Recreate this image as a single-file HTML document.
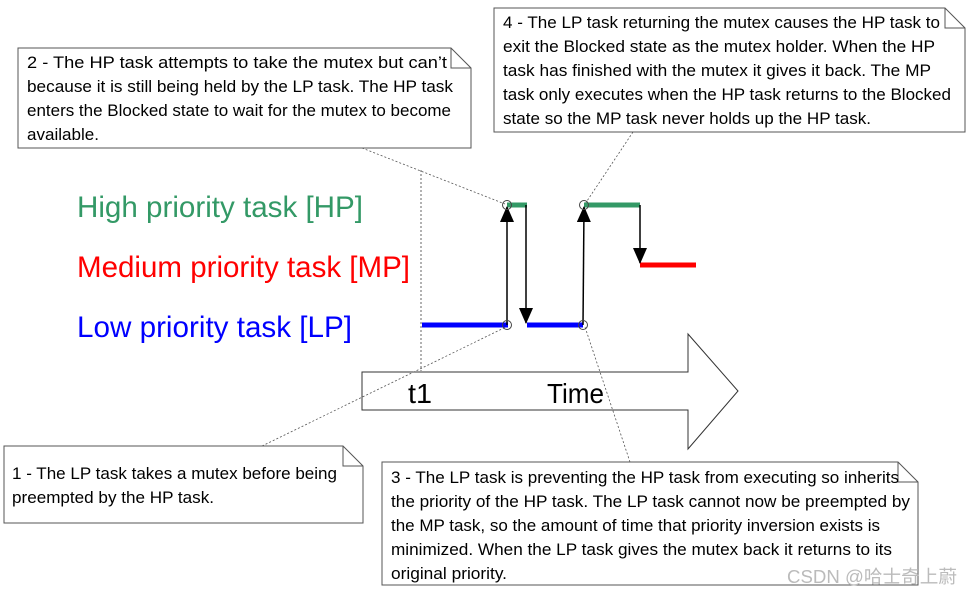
<!DOCTYPE html>
<html><head><meta charset="utf-8"><style>
html,body{margin:0;padding:0;background:#fff;width:973px;height:595px;overflow:hidden}
text{font-family:"Liberation Sans Narrow","Liberation Sans",sans-serif}
</style></head><body>
<svg width="973" height="595" viewBox="0 0 973 595" xmlns="http://www.w3.org/2000/svg">
<defs><marker id="ah" markerWidth="16" markerHeight="14" refX="15" refY="7" orient="auto" markerUnits="userSpaceOnUse"><path d="M0,0 L16,7 L0,14 z" fill="#000"/></marker></defs>
<!-- Time arrow -->
<path d="M362,372 H688 V334 L738,391 L688,449 V410 H362 Z" fill="#fff" stroke="#333" stroke-width="1"/>
<text x="408" y="403" font-size="28" fill="#000" textLength="24" lengthAdjust="spacingAndGlyphs">t1</text>
<text x="547" y="403" font-size="28" fill="#000" textLength="57" lengthAdjust="spacingAndGlyphs">Time</text>
<!-- dashed vertical -->
<line x1="421" y1="170" x2="421" y2="372" stroke="#999" stroke-width="1.5" stroke-dasharray="2,2"/>
<!-- leader lines -->
<g stroke="#555" stroke-width="0.8" stroke-dasharray="2,2" fill="none">
<line x1="362" y1="148" x2="505" y2="204"/>
<line x1="633" y1="132" x2="585" y2="204"/>
<line x1="262" y1="446" x2="506" y2="327"/>
<line x1="630" y1="462" x2="585" y2="327"/>
</g>
<!-- labels -->
<text x="77" y="217" font-size="30" fill="#339966" textLength="286" lengthAdjust="spacingAndGlyphs">High priority task [HP]</text>
<text x="77" y="277" font-size="30" fill="#ff0000" textLength="333" lengthAdjust="spacingAndGlyphs">Medium priority task [MP]</text>
<text x="77" y="337" font-size="30" fill="#0000ff" textLength="275" lengthAdjust="spacingAndGlyphs">Low priority task [LP]</text>
<!-- bars -->
<line x1="422" y1="325" x2="508" y2="325" stroke="#0000ff" stroke-width="5"/>
<line x1="507" y1="205" x2="527" y2="205" stroke="#339966" stroke-width="5"/>
<line x1="527" y1="325" x2="583" y2="325" stroke="#0000ff" stroke-width="5"/>
<line x1="584" y1="205" x2="640" y2="205" stroke="#339966" stroke-width="5"/>
<line x1="640" y1="265" x2="696" y2="265" stroke="#ff0000" stroke-width="5"/>
<!-- arrows -->
<g stroke="#000" stroke-width="1.5">
<line x1="507" y1="325" x2="507" y2="207" marker-end="url(#ah)"/>
<line x1="526" y1="205" x2="526" y2="323" marker-end="url(#ah)"/>
<line x1="583" y1="325" x2="584" y2="207" marker-end="url(#ah)"/>
<line x1="640" y1="205" x2="640" y2="263" marker-end="url(#ah)"/>
</g>
<g fill="none" stroke="#444" stroke-width="1">
<circle cx="507" cy="205" r="4.5"/><circle cx="584" cy="205" r="4.5"/>
<circle cx="507" cy="325" r="4.5"/><circle cx="583" cy="325" r="4.5"/>
</g>
<!-- boxes -->
<g fill="#fff" stroke="#555" stroke-width="1">
<path d="M18,48 H451 L471,68 V148 H18 Z"/><path d="M451,48 V68 H471" fill="none"/>
<path d="M494,8 H945 L965,28 V132 H494 Z"/><path d="M945,8 V28 H965" fill="none"/>
<path d="M4,446 H343 L363,466 V523 H4 Z"/><path d="M343,446 V466 H363" fill="none"/>
<path d="M382,462 H898 L918,482 V585 H382 Z"/><path d="M898,462 V482 H918" fill="none"/>
</g>
<g font-size="17" fill="#000">
<text x="27" y="68" textLength="420" lengthAdjust="spacingAndGlyphs">2 - The HP task attempts to take the mutex but can’t</text>
<text x="27" y="92" textLength="426" lengthAdjust="spacingAndGlyphs">because it is still being held by the LP task.  The HP task</text>
<text x="27" y="116" textLength="424" lengthAdjust="spacingAndGlyphs">enters the Blocked state to wait for the mutex to become</text>
<text x="27" y="140" textLength="72" lengthAdjust="spacingAndGlyphs">available.</text>

<text x="503" y="28" textLength="437" lengthAdjust="spacingAndGlyphs">4 - The LP task returning the mutex causes the HP task to</text>
<text x="503" y="52" textLength="432" lengthAdjust="spacingAndGlyphs">exit the Blocked state as the mutex holder.  When the HP</text>
<text x="503" y="76" textLength="428" lengthAdjust="spacingAndGlyphs">task has finished with the mutex it gives it back.  The MP</text>
<text x="503" y="100" textLength="448" lengthAdjust="spacingAndGlyphs">task only executes when the HP task returns to the Blocked</text>
<text x="503" y="124" textLength="368" lengthAdjust="spacingAndGlyphs">state so the MP task never holds up the HP task.</text>

<text x="12" y="479" textLength="325" lengthAdjust="spacingAndGlyphs">1 - The LP task takes a mutex before being</text>
<text x="12" y="503" textLength="202" lengthAdjust="spacingAndGlyphs">preempted by the HP task.</text>

<text x="391" y="483" textLength="508" lengthAdjust="spacingAndGlyphs">3 - The LP task is preventing the HP task from executing so inherits</text>
<text x="391" y="507" textLength="519" lengthAdjust="spacingAndGlyphs">the priority of the HP task.  The LP task cannot now be preempted by</text>
<text x="391" y="531" textLength="489" lengthAdjust="spacingAndGlyphs">the MP task, so the amount of time that priority inversion exists is</text>
<text x="391" y="555" textLength="501" lengthAdjust="spacingAndGlyphs">minimized.  When the LP task gives the mutex back it returns to its</text>
<text x="391" y="579" textLength="116" lengthAdjust="spacingAndGlyphs">original priority.</text>
</g>
<text x="787" y="583" font-size="18" fill="#bbb" textLength="170" lengthAdjust="spacingAndGlyphs" style='font-family:"Liberation Sans","Noto Sans CJK SC",sans-serif'>CSDN @哈士奇上蔚</text>
</svg>
</body></html>
